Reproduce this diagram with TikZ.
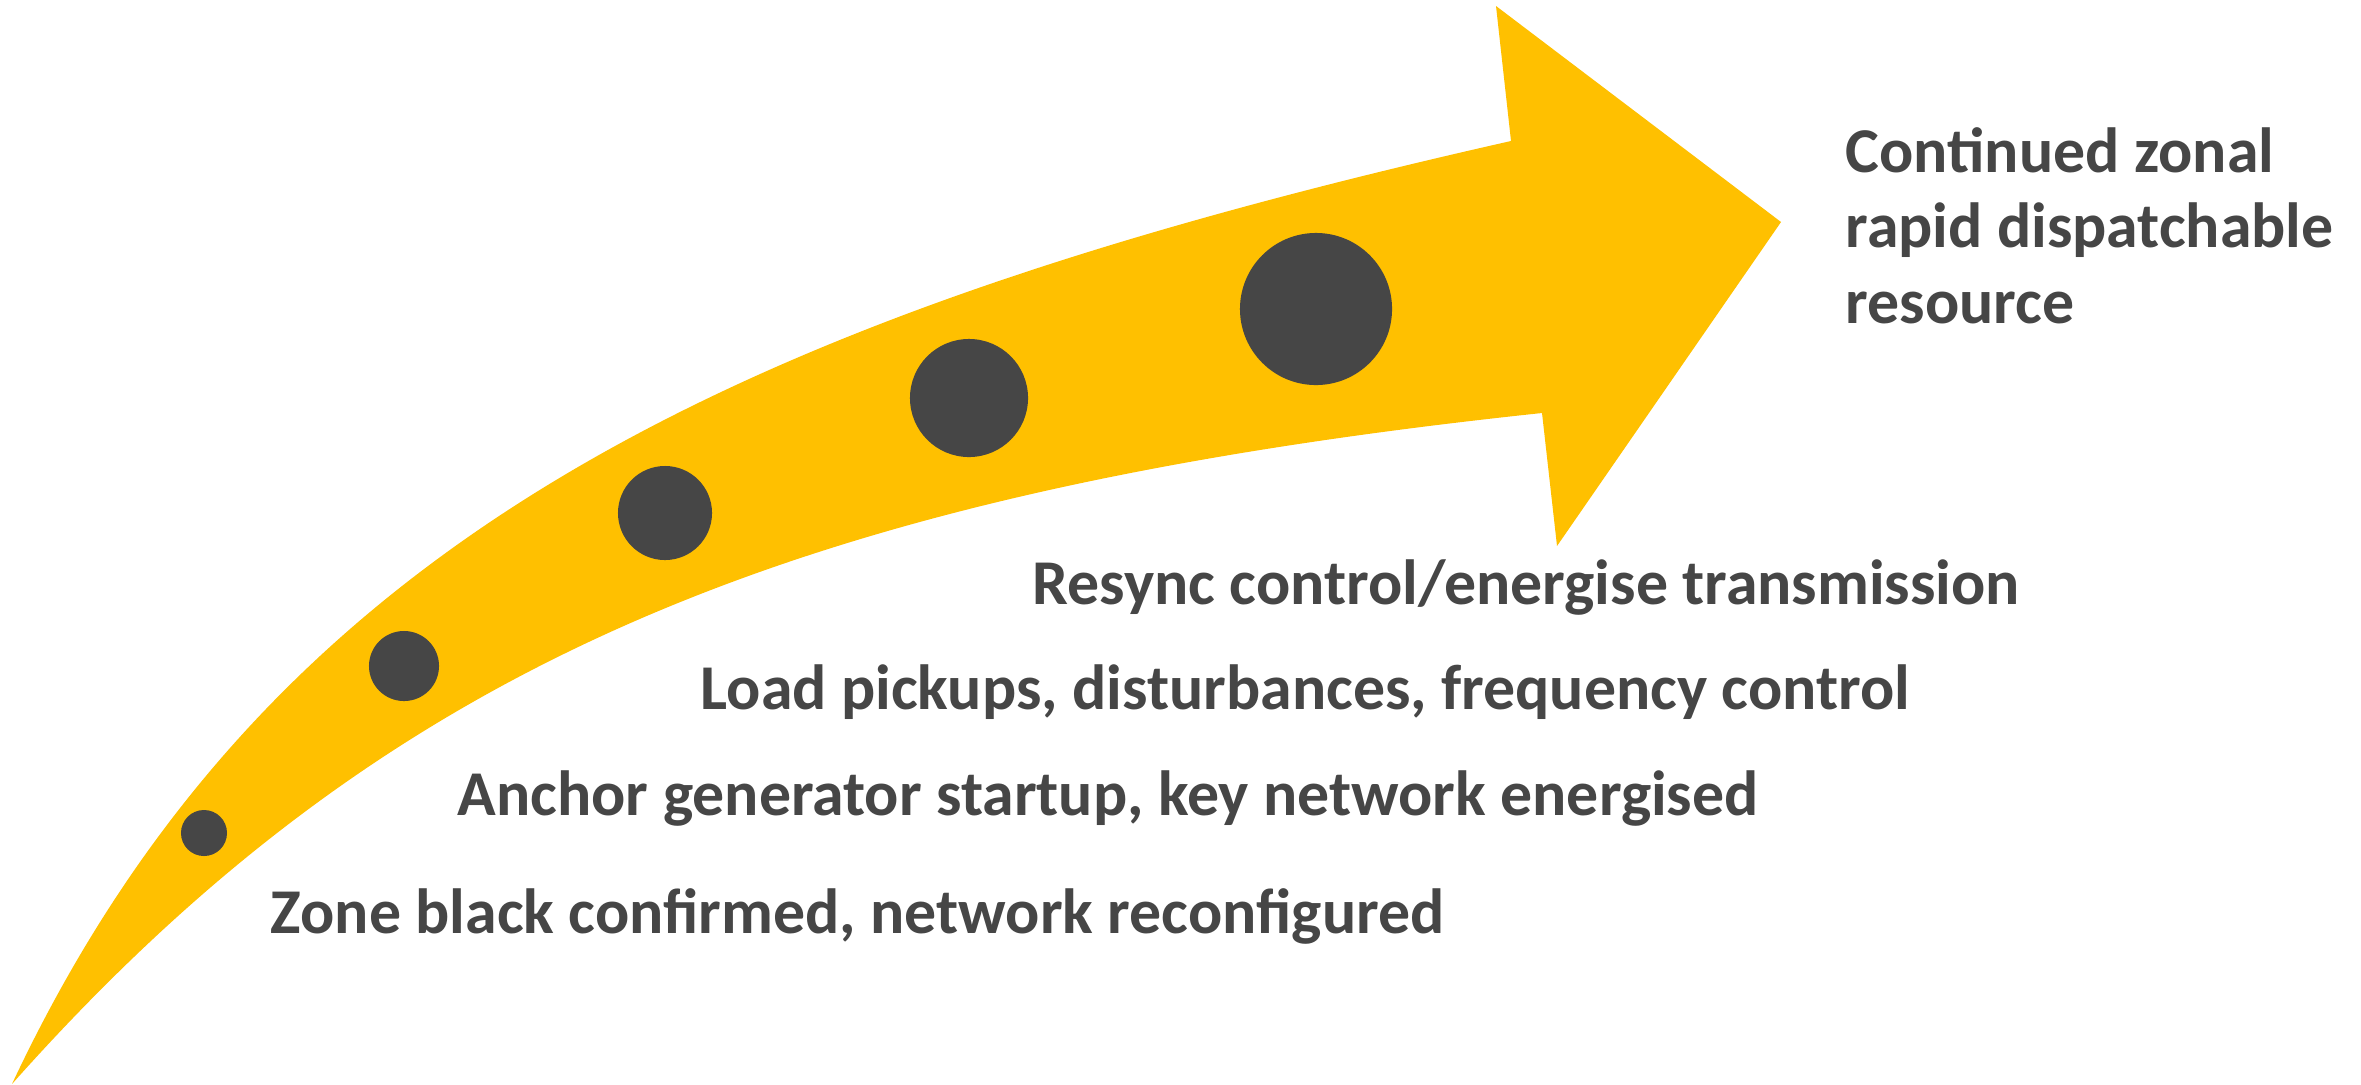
\documentclass[tikz,border=0pt]{standalone}
\usepackage{fontspec}
\setmainfont{Carlito}
\usepackage{tikz}

\definecolor{arrowgold}{HTML}{FFC000}
\definecolor{dotgrey}{HTML}{464646}

\tikzset{
	milestone/.style = {circle, fill=dotgrey, inner sep=0pt},
	stage/.style     = {anchor=base west, inner sep=0pt, text=dotgrey,
	                    font=\fontsize{18.15}{21.6}\selectfont\bfseries},
}

\begin{document}
\begin{tikzpicture}[x=0.01cm, y=-0.01cm]                                  % one unit = one pixel, y down
	\useasboundingbox (0,0) rectangle (2361,1084);

	% curved shaft and head
	\fill[arrowgold]
		(12,1084) .. controls (267,541) and (731,317) .. (1511,141)
		-- (1496,6) -- (1781,222) -- (1557,546) -- (1542,413)
		.. controls (787,493) and (384,666) .. (12,1084)
		-- cycle;

	% milestones, growing along the arrow
	\node[milestone, minimum size=0.46cm] (m1) at (204,833) {};
	\node[milestone, minimum size=0.70cm] (m2) at (404,666) {};
	\node[milestone, minimum size=0.94cm] (m3) at (665,513) {};
	\node[milestone, minimum size=1.18cm] (m4) at (969,398) {};
	\node[milestone, minimum size=1.52cm] (m5) at (1316,309) {};

	% stage labels
	\node[stage] (zone)   at (270,933)  {Zone black confirmed, network reconfigured};
	\node[stage] (anchor) at (457,815)  {Anchor generator startup, key network energised};
	\node[stage] (load)   at (700,709)  {Load pickups, disturbances, frequency control};
	\node[stage] (resync) at (1032,604) {Resync control/energise transmission};
	\node[stage, text width=6cm, align=left,
	      execute at begin node={\spaceskip=0pt\xspaceskip=0pt\relax}] (goal) at (1845,172)
		{Continued zonal\\rapid dispatchable\\resource};            % keep the font's own word spaces
\end{tikzpicture}
\end{document}
